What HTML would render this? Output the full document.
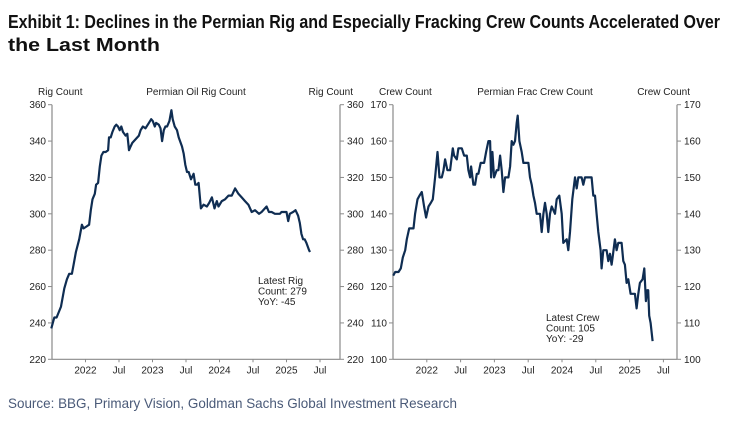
<!DOCTYPE html>
<html><head><meta charset="utf-8"><style>
body{margin:0;background:#fff;}
svg{display:block;font-family:"Liberation Sans",sans-serif;}
</style></head><body>
<svg id="c" width="732" height="434" viewBox="0 0 732 434">
<text x="8" y="28" font-size="18" font-weight="bold" fill="#111" textLength="712" lengthAdjust="spacingAndGlyphs">Exhibit 1: Declines in the Permian Rig and Especially Fracking Crew Counts Accelerated Over</text>
<text x="8" y="51" font-size="18" font-weight="bold" fill="#111" textLength="152" lengthAdjust="spacingAndGlyphs">the Last Month</text>
<text x="8" y="408" font-size="14" fill="#4a5a78" textLength="449" lengthAdjust="spacingAndGlyphs">Source: BBG, Primary Vision, Goldman Sachs Global Investment Research</text>
</svg>
<script>
// Left chart data (x in zoom-read time units converted to years)
const rigDates=[156,165,172,185,195,203,210,218,223,230,240,248,253,262,270,275,280,287,291,297,302,307,313,320,327,330,335,340,347,352,357,362,367,372,380,385,390,395,400,410,420,425,432,440,450,457,462,468,472,480,485,490,495,500,505,512,518,522,528,535,540,550,555,560,565,570,577,585,590,595,600,607,615,625,632,640,648,655,660,670,680,690,700,710,720,730,740,750,760,770,782,790,800,805,812,820,830,845,850,865,870,875,885,892,900,905,910,915,920,925,933,936].map(z=>2022+(z-259)/202);
const rigValues=[237,243,243,249,259,264,267,267,272,279,286,294,292,293,294,302,308,311,316,317,326,332,334,334,335,342,342,345,348,349,348,346,348,345,343,344,335,337,339,341,343,346,348,347,350,352,351,348,350,349,347,340,346,348,348,351,357,352,348,346,342,337,333,327,323,323,319,322,316,316,317,303,305,304,306,309,303,307,304,307,308,310,310,314,311,309,307,305,301,302,300,301,303,304,301,301,300,300,301,301,296,300,301,302,299,295,289,286,286,284,280,279];
const rigTicks=[220,240,260,280,300,320,340,360];
const crewDates=[99,105,115,122,128,135,140,147,160,165,172,178,185,192,198,205,212,218,225,232,238,245,250,255,262,270,278,282,290,295,305,312,320,325,330,333,340,345,350,355,362,372,378,385,390,393,397,402,410,415,420,425,430,435,445,450,455,460,465,470,473,478,485,490,505,510,515,520,525,530,540,545,550,555,560,565,570,575,585,590,598,605,610,620,625,630,637,645,650,655,665,670,675,695,700,705,710,715,722,725,730,740,745,750,755,758,765,770,775,785,790,795,800,805,812,825,830,835,840,848,853,858,862,865,868,872,878].map(z=>2022+(z-200)/203);
const crewValues=[123,124,124,125,128,130,133,136,136,140,144,145,146,142,139,142,143,144,150,157,150,150,152,155,152,152,158,156,155,158,158,156,156,152,150,153,148,148,151,151,154,154,157,160,160,150,157,150,152,152,156,152,146,150,150,153,160,159,160,165,167,160,157,154,154,150,148,145,143,140,140,135,140,143,140,135,140,142,140,144,145,140,132,133,130,135,144,150,147,150,150,148,150,150,145,145,140,135,130,125,130,130,127,129,126,128,133,130,132,132,127,126,121,122,118,118,114,118,121,122,125,116,119,119,112,110,105];
const crewTicks=[100,110,120,130,140,150,160,170];
const xTickLabels=["2022","Jul","2023","Jul","2024","Jul","2025","Jul"];
const xTickTimes=[2022,2022.5,2023,2023.5,2024,2024.5,2025,2025.5];

const svg=document.getElementById('c');
const NS='http://www.w3.org/2000/svg';
function mk(tag,attrs,parent){const e=document.createElementNS(NS,tag);for(const k in attrs)e.setAttribute(k,attrs[k]);(parent||svg).appendChild(e);return e;}

function chart(cfg){
  const g=mk('g',{});
  
  
  const x=t=>cfg.x0+(t-2021.5)*cfg.pxYr;
  const y=v=>cfg.yTop+(cfg.max-v)/(cfg.max-cfg.min)*(cfg.yBot-cfg.yTop);
  const ax='#8a8a8a';
  const la=mk('line',{x1:cfg.x0,y1:cfg.yTop,x2:cfg.x0,y2:cfg.yBot,stroke:ax,'stroke-width':1.2},g);
  
  
  const ra=mk('line',{x1:cfg.x1,y1:cfg.yTop,x2:cfg.x1,y2:cfg.yBot,stroke:ax,'stroke-width':1.2},g);
  
  
  const xa=mk('line',{x1:cfg.x0,y1:cfg.yBot,x2:cfg.x1,y2:cfg.yBot,stroke:ax,'stroke-width':1.2},g);
  
  
  cfg.ticks.forEach(v=>{
    mk('line',{x1:cfg.x0-4,y1:y(v),x2:cfg.x0,y2:y(v),stroke:ax},g);
    mk('line',{x1:cfg.x1,y1:y(v),x2:cfg.x1+4,y2:y(v),stroke:ax},g);
    const l=mk('text',{x:cfg.x0-6,y:y(v)+3.5,'font-size':10,'text-anchor':'end',fill:'#222'},g);l.textContent=v;
    
    
    const r=mk('text',{x:cfg.x1+7,y:y(v)+3.5,'font-size':10,fill:'#222'},g);r.textContent=v;
    
    
  });
  xTickTimes.forEach((t,i)=>{
    mk('line',{x1:x(t),y1:cfg.yBot,x2:x(t),y2:cfg.yBot+3,stroke:ax},g);
    const l=mk('text',{x:x(t),y:cfg.yBot+14,'font-size':10,'text-anchor':'middle',fill:'#222'},g);l.textContent=xTickLabels[i];
    
    
  });
  const tl=mk('text',{x:cfg.x0-14,y:95,'font-size':10,fill:'#222'},g);tl.textContent=cfg.yTitle;
  
  
  const tr=mk('text',{x:cfg.x1+13,y:95,'font-size':10,'text-anchor':'end',fill:'#222'},g);tr.textContent=cfg.yTitle;
  
  
  const ct=mk('text',{x:(cfg.x0+cfg.x1)/2,y:95,'font-size':10,'text-anchor':'middle',fill:'#222'},g);ct.textContent=cfg.title;
  
  
  const d=cfg.dates.map((t,i)=>(i?'L':'M')+x(t).toFixed(1)+','+y(cfg.vals[i]).toFixed(1)).join('');
  const p=mk('path',{d:d,fill:'none',stroke:'#0f2d52','stroke-width':2.2,'stroke-linejoin':'round'},g);
  
  
  cfg.note.forEach((s,i)=>{
    const n=mk('text',{x:cfg.noteX,y:cfg.noteY+i*10.5,'font-size':10,fill:'#222'},g);n.textContent=s;
    
    
  });
}
chart({name:'rig-count-chart',x0:52,x1:340,yTop:104.7,yBot:359.3,pxYr:67,min:220,max:360,ticks:rigTicks,dates:rigDates,vals:rigValues,yTitle:'Rig Count',title:'Permian Oil Rig Count',note:['Latest Rig','Count: 279','YoY: -45'],noteX:258,noteY:284});
chart({name:'frac-crew-chart',x0:393,x1:677,yTop:104.7,yBot:359.3,pxYr:67.6,min:100,max:170,ticks:crewTicks,dates:crewDates,vals:crewValues,yTitle:'Crew Count',title:'Permian Frac Crew Count',note:['Latest Crew','Count: 105','YoY: -29'],noteX:546,noteY:321});
</script>
</body></html>
